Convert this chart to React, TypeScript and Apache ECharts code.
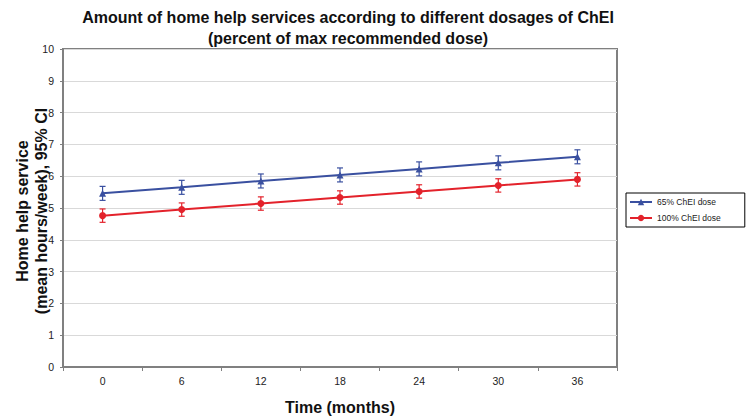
import React, { useEffect, useRef } from "react";
import * as echarts from "echarts";

const months = ["0", "6", "12", "18", "24", "30", "36"];
const yTicks = [0, 1, 2, 3, 4, 5, 6, 7, 8, 9, 10];

const dose65Mean = [5.46, 5.65, 5.85, 6.04, 6.23, 6.42, 6.61];
const dose65Low = [5.24, 5.43, 5.63, 5.82, 6.01, 6.2, 6.39];
const dose65High = [5.68, 5.87, 6.07, 6.26, 6.45, 6.64, 6.83];

const dose100Mean = [4.76, 4.95, 5.14, 5.33, 5.52, 5.71, 5.9];
const dose100Low = [4.55, 4.74, 4.93, 5.12, 5.31, 5.5, 5.69];
const dose100High = [4.97, 5.16, 5.35, 5.54, 5.73, 5.92, 6.11];

const BLUE = "#3a50a0";
const RED = "#e3222b";
const FONT = "Liberation Sans, Arial, sans-serif";

function errorBarSeries(name: string, low: number[], high: number[], color: string) {
  return {
    name,
    type: "custom",
    z: 3,
    data: low.map((l, i) => [i, l, high[i]]),
    renderItem: (params: any, api: any) => {
      const i = api.value(0);
      const lo = api.coord([i, api.value(1)]);
      const hi = api.coord([i, api.value(2)]);
      const cap = 3;
      const style = { stroke: color, lineWidth: 1.2 };
      return {
        type: "group",
        children: [
          { type: "line", shape: { x1: lo[0], y1: lo[1], x2: hi[0], y2: hi[1] }, style },
          { type: "line", shape: { x1: lo[0] - cap, y1: lo[1], x2: lo[0] + cap, y2: lo[1] }, style },
          { type: "line", shape: { x1: hi[0] - cap, y1: hi[1], x2: hi[0] + cap, y2: hi[1] }, style },
        ],
      };
    },
  };
}

export default function App() {
  const ref = useRef<HTMLDivElement>(null);
  useEffect(() => {
    document.body.style.margin = "0";
    if (!ref.current) return;
    const chart = echarts.init(ref.current, undefined, { renderer: "svg" });
    chart.setOption({
      animation: false,
      backgroundColor: "#ffffff",
      textStyle: { fontFamily: FONT },
      title: {
        text: "Amount of home help services according to different dosages of ChEI\n(percent of max recommended dose)",
        left: 343,
        top: 2,
        textAlign: "center",
        textStyle: { fontFamily: FONT, fontSize: 16, fontWeight: "bold", color: "#111", lineHeight: 21 },
      },
      grid: {
        left: 63,
        right: 130,
        top: 49,
        bottom: 47,
        show: true,
        borderColor: "#808080",
        borderWidth: 2,
        backgroundColor: "transparent",
      },
      legend: {
        orient: "vertical",
        left: 626,
        top: 193,
        data: ["65% ChEI dose", "100% ChEI dose"],
        borderColor: "#000",
        borderWidth: 1,
        borderRadius: 0,
        padding: [4, 24, 4, 3],
        itemWidth: 22,
        itemHeight: 8,
        itemGap: 6,
        textStyle: { fontFamily: FONT, fontSize: 8.5, color: "#222", lineHeight: 10 },
      },
      xAxis: {
        type: "category",
        data: months,
        boundaryGap: true,
        name: "Time (months)",
        nameLocation: "middle",
        nameGap: 32,
        nameTextStyle: { fontFamily: FONT, fontSize: 16, fontWeight: "bold", color: "#111" },
        axisLine: { show: true, lineStyle: { color: "#808080", width: 2 } },
        axisTick: { show: true, length: 4, lineStyle: { color: "#808080" } },
        axisLabel: { fontFamily: FONT, fontSize: 10.5, color: "#222", margin: 8 },
        splitLine: { show: false },
      },
      yAxis: {
        type: "value",
        min: yTicks[0],
        max: yTicks[yTicks.length - 1],
        interval: 1,
        axisLine: { show: true, lineStyle: { color: "#808080", width: 2 } },
        axisTick: { show: true, length: 3, lineStyle: { color: "#808080" } },
        axisLabel: { fontFamily: FONT, fontSize: 10.5, color: "#222", margin: 9 },
        splitLine: { show: true, lineStyle: { color: "#d9d9d9", width: 1 } },
      },
      graphic: [
        {
          type: "text",
          x: 32,
          y: 211,
          rotation: Math.PI / 2,
          style: {
            text: "Home help service\n(mean hours/week), 95% CI",
            font: `bold 16px ${FONT}`,
            fill: "#111",
            align: "center",
            verticalAlign: "middle",
            lineHeight: 19,
          },
        },
      ],
      series: [
        {
          name: "65% ChEI dose",
          type: "line",
          data: dose65Mean,
          symbol: "triangle",
          symbolSize: 7,
          z: 4,
          itemStyle: { color: BLUE },
          lineStyle: { color: BLUE, width: 2 },
        },
        {
          name: "100% ChEI dose",
          type: "line",
          data: dose100Mean,
          symbol: "circle",
          symbolSize: 7,
          z: 4,
          itemStyle: { color: RED },
          lineStyle: { color: RED, width: 2 },
        },
        errorBarSeries("65% CI", dose65Low, dose65High, BLUE),
        errorBarSeries("100% CI", dose100Low, dose100High, RED),
      ],
    });
    return () => chart.dispose();
  }, []);
  return <div ref={ref} style={{ width: 747, height: 420 }} />;
}
